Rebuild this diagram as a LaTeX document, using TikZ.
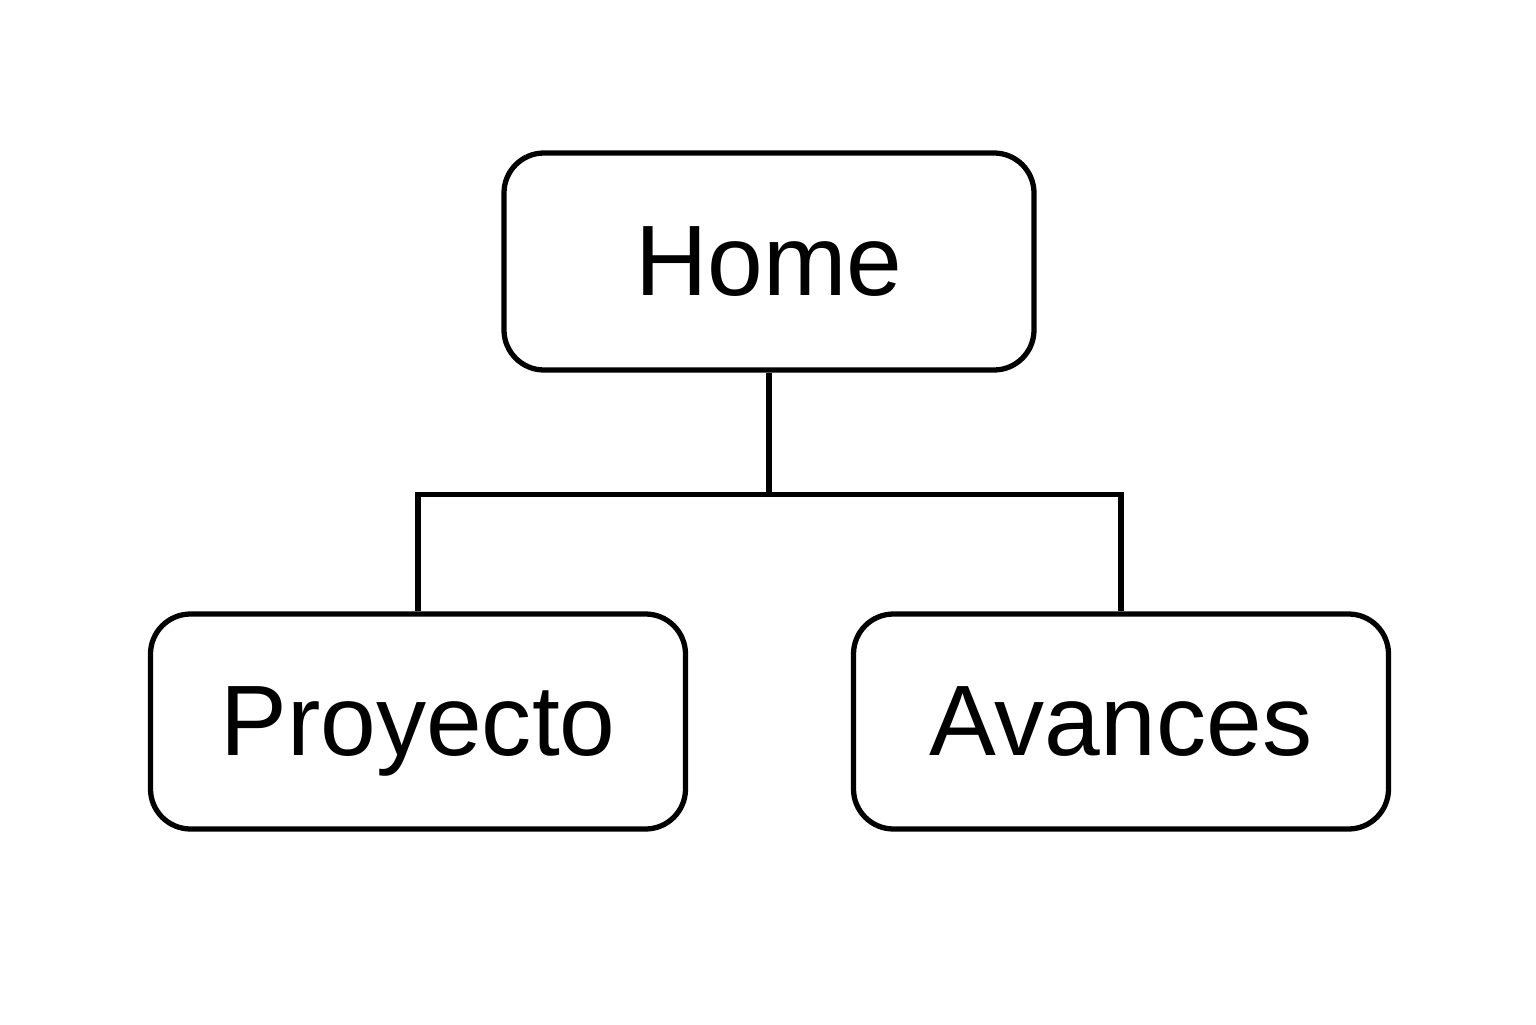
\documentclass[tikz,border=0pt]{standalone}
\usepackage{fontspec}
\setmainfont{Liberation Sans}
\usetikzlibrary{positioning}

\begin{document}
\begin{tikzpicture}[on grid,
	page/.style={draw,line width=1.5pt,rounded corners=0.4cm,minimum width=5.35cm,minimum height=2.15cm,text height=0.76cm,text depth=0.08cm,font=\fontsize{28.5}{34}\selectfont}]
				\useasboundingbox (0,0) rectangle (15.36,10.24);
				\node[page,minimum width=5.3cm,minimum height=2.17cm] (home) at (7.69,7.625) {Home};
				\node[page] (proyecto) [below left=4.6cm and 3.51cm of home] {Proyecto};
				\node[page] (avances) [below right=4.6cm and 3.52cm of home] {Avances};
				\coordinate[below=1.22cm of home.south] (split);
				\draw[line width=1.5pt] (home.south) -- (split);
				\draw[line width=1.5pt] (proyecto.north) |- (split) -| (avances.north);
			\end{tikzpicture}
\end{document}
